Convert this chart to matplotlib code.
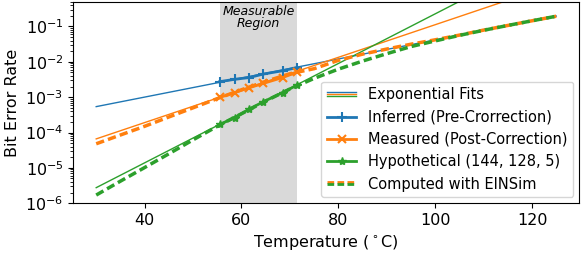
import numpy as np
import matplotlib
matplotlib.use("Agg")
import matplotlib.pyplot as plt
from matplotlib.lines import Line2D
from matplotlib.legend_handler import HandlerBase

# measured temperatures (inside the measurable region)
meas_T = [55.5, 58.6, 61.6, 64.5, 68.5, 71.5]
inferred_ber = [2.75e-3, 3.2e-3, 3.6e-3, 4.5e-3, 5.6e-3, 6.9e-3]
measured_ber = [9.8e-4, 1.35e-3, 1.85e-3, 2.45e-3, 3.6e-3, 5.1e-3]
hypo_ber = [1.7e-4, 2.6e-4, 4.6e-4, 7.4e-4, 1.35e-3, 2.2e-3]

# exponential fits (straight on log axis) evaluated at the ends
fit_T = [30, 125]
inferred_fit = [5.4e-4, 0.197]
measured_fit = [6.6e-5, 1.6]
hypo_fit = [2.75e-6, 13.0]

# EINSim results
sim_T = [30, 35, 40, 45, 50, 55, 60, 65, 70, 75,
         80, 85, 90, 95, 100, 105, 110, 115, 120, 125]
sim_measured = [4.8e-5, 8.5e-5, 1.5e-4, 2.75e-4, 5.0e-4, 9.1e-4, 1.62e-3, 2.8e-3,
                4.6e-3, 6.4e-3, 1.1e-2, 1.65e-2, 2.3e-2, 3.15e-2, 4.2e-2,
                5.7e-2, 7.9e-2, 0.107, 0.145, 0.195]
sim_hypo = [1.7e-6, 4.2e-6, 1.02e-5, 2.5e-5, 6.2e-5, 1.5e-4, 3.4e-4, 7.8e-4,
            1.7e-3, 3.4e-3, 6.2e-3, 1.05e-2, 1.7e-2, 2.7e-2, 3.9e-2,
            5.6e-2, 7.8e-2, 0.107, 0.145, 0.195]

blue, orange, green = "tab:blue", "tab:orange", "tab:green"
dash = (0, (2.4, 1.2))


class StackHandler(HandlerBase):
    """draws a few lines stacked on top of each other"""
    def __init__(self, colors, ls="-", lw=1.0, gap=1.6):
        super().__init__()
        self.colors = colors
        self.ls = ls
        self.lw = lw
        self.gap = gap

    def create_artists(self, legend, orig_handle, xdescent, ydescent,
                       width, height, fontsize, trans):
        out = []
        y0 = height / 2 - ydescent
        n = len(self.colors)
        for i, c in enumerate(self.colors):
            off = ((n - 1) / 2 - i) * self.gap
            l = Line2D([-xdescent, width - xdescent], [y0 + off] * 2,
                       color=c, lw=self.lw, ls=self.ls)
            l.set_transform(trans)
            out.append(l)
        return out


fig = plt.figure(figsize=(5.81, 2.54), dpi=100)
ax = fig.add_axes([0.126, 0.2, 0.871, 0.793])

ax.axvspan(min(meas_T), max(meas_T), color="#d9d9d9", lw=0, zorder=0)
ax.text((min(meas_T) + max(meas_T)) / 2, 0.985, "Measurable\nRegion",
        transform=ax.get_xaxis_transform(),
        ha="center", va="top", style="italic", fontsize=9, linespacing=0.95)

ax.plot(fit_T, inferred_fit, color=blue, lw=1)
ax.plot(fit_T, measured_fit, color=orange, lw=1)
ax.plot(fit_T, hypo_fit, color=green, lw=1)

ax.plot(meas_T, inferred_ber, color=blue, lw=2, marker="+", ms=7, mew=1.5)
ax.plot(meas_T, measured_ber, color=orange, lw=2, marker="x", ms=6, mew=1.5)
ax.plot(meas_T, hypo_ber, color=green, lw=2, marker="*", ms=6)

ax.plot(sim_T, sim_measured, color=orange, lw=2.5, ls=dash)
ax.plot(sim_T, sim_hypo, color=green, lw=2.5, ls=dash)

ax.set_yscale("log")
ax.set_ylim(1e-6, 0.5)
ax.set_xlim(25.25, 129.75)
ax.set_xticks([40, 60, 80, 100, 120])
ax.tick_params(labelsize=11.5)
ax.set_xlabel("Temperature ($^\\circ$C)", fontsize=11.5)
ax.set_ylabel("Bit Error Rate", fontsize=11.5)

fits_h = Line2D([], [])
sim_h = Line2D([], [])
handles = [
    fits_h,
    Line2D([], [], color=blue, lw=2, marker="+", ms=7, mew=1.5),
    Line2D([], [], color=orange, lw=2, marker="x", ms=6, mew=1.5),
    Line2D([], [], color=green, lw=2, marker="*", ms=6),
    sim_h,
]
labels = ["Exponential Fits", "Inferred (Pre-Crorrection)",
          "Measured (Post-Correction)", "Hypothetical (144, 128, 5)",
          "Computed with EINSim"]
ax.legend(handles, labels, loc="lower right", fontsize=10.5,
          borderaxespad=0.4, labelspacing=0.5,
          handler_map={fits_h: StackHandler([blue, orange, green], lw=1.0, gap=1.5),
                       sim_h: StackHandler([orange, green], ls=dash, lw=2.0, gap=1.5)})

fig.savefig("out.png", dpi=100)
